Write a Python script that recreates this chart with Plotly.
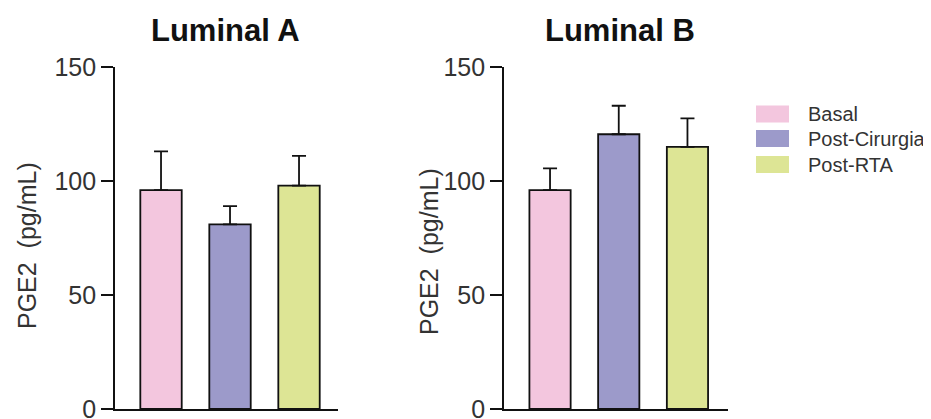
import plotly.graph_objects as go

# page is rendered with an 8px body margin, so the figure is shifted by 8px
OFF = 8
W, H = 931 - OFF, 419 - OFF
T = 67 - OFF
B = H - (409 - OFF)

groups = ["Basal", "Post-Cirurgia", "Post-RTA"]
colors = ["#f3c6de", "#9c9aca", "#dde595"]

lumA_mean = [96, 81, 98]
lumA_err = [17, 8, 13]
lumB_mean = [96, 120.5, 115]
lumB_err = [9.5, 12.5, 12.5]

yticks = [0, 50, 100, 150]

fig = go.Figure()

for axis_id, means, errs in [("", lumA_mean, lumA_err), ("2", lumB_mean, lumB_err)]:
    fig.add_trace(go.Bar(
        x=list(range(len(groups))), y=means,
        marker=dict(color=colors, line=dict(color="#111111", width=1.8)),
        width=0.6,
        error_y=dict(type="data", array=errs, arrayminus=[0]*len(errs), symmetric=False,
                     color="#111111", thickness=1.8, width=7),
        xaxis="x" + axis_id, yaxis="y" + axis_id, showlegend=False,
        hovertext=groups,
    ))

# page-pixel -> paper coordinates
def px(x):
    return (x - OFF) / W

def py(y):
    return 1 - ((y - OFF) - T) / (H - T - B)

axis_common = dict(showgrid=False, zeroline=False, showline=True, linecolor="#111111",
                   linewidth=1.8, automargin=False)
yaxis_common = dict(range=[0, 150], tickvals=yticks, ticks="outside", ticklen=12, tickwidth=1.8,
                    tickcolor="#111111", tickfont=dict(size=25, color="#333333"),
                    ticklabeloverflow="allow", **axis_common)

fig.update_layout(
    width=W, height=H,
    margin=dict(l=0, r=0, t=T, b=B, autoexpand=False),
    paper_bgcolor="white", plot_bgcolor="white",
    font=dict(family="Liberation Sans, Arial, sans-serif", color="#333333"),
    xaxis=dict(domain=[px(115), px(338)], range=[-0.667, 2.565], showticklabels=False,
               ticks="", anchor="y", **axis_common),
    xaxis2=dict(domain=[px(504), px(728)], range=[-0.67, 2.59], showticklabels=False,
                ticks="", anchor="y2", **axis_common),
    yaxis=dict(anchor="x", **yaxis_common),
    yaxis2=dict(anchor="x2", **yaxis_common),
)

# y-axis titles
ytitle = "PGE2\u00a0 (pg/mL)"
for xc, yc in [(27, 246), (429, 252)]:
    fig.add_annotation(x=px(xc), y=py(yc), xref="paper", yref="paper", text=ytitle,
                       textangle=-90, showarrow=False, font=dict(size=25, color="#333333"),
                       xanchor="center", yanchor="middle")

# Panel titles
for text, xc in [("Luminal A", 225), ("Luminal B", 620)]:
    fig.add_annotation(x=px(xc), y=py(30), xref="paper", yref="paper", text="<b>%s</b>" % text,
                       showarrow=False, font=dict(size=31, color="#111111"),
                       xanchor="center", yanchor="middle")

# Legend (drawn manually to match swatch style)
leg_y = [114, 138.5, 164.5]
for g, c, yc in zip(groups, colors, leg_y):
    fig.add_shape(type="rect", xref="paper", yref="paper",
                  x0=px(756), x1=px(789), y0=py(yc - 8.5), y1=py(yc + 8.5),
                  fillcolor=c, line=dict(width=0))
    fig.add_annotation(x=px(806), y=py(yc), xref="paper", yref="paper", text=g,
                       showarrow=False, font=dict(size=20, color="#333333"),
                       xanchor="left", yanchor="middle")

fig.write_html("out.html")
